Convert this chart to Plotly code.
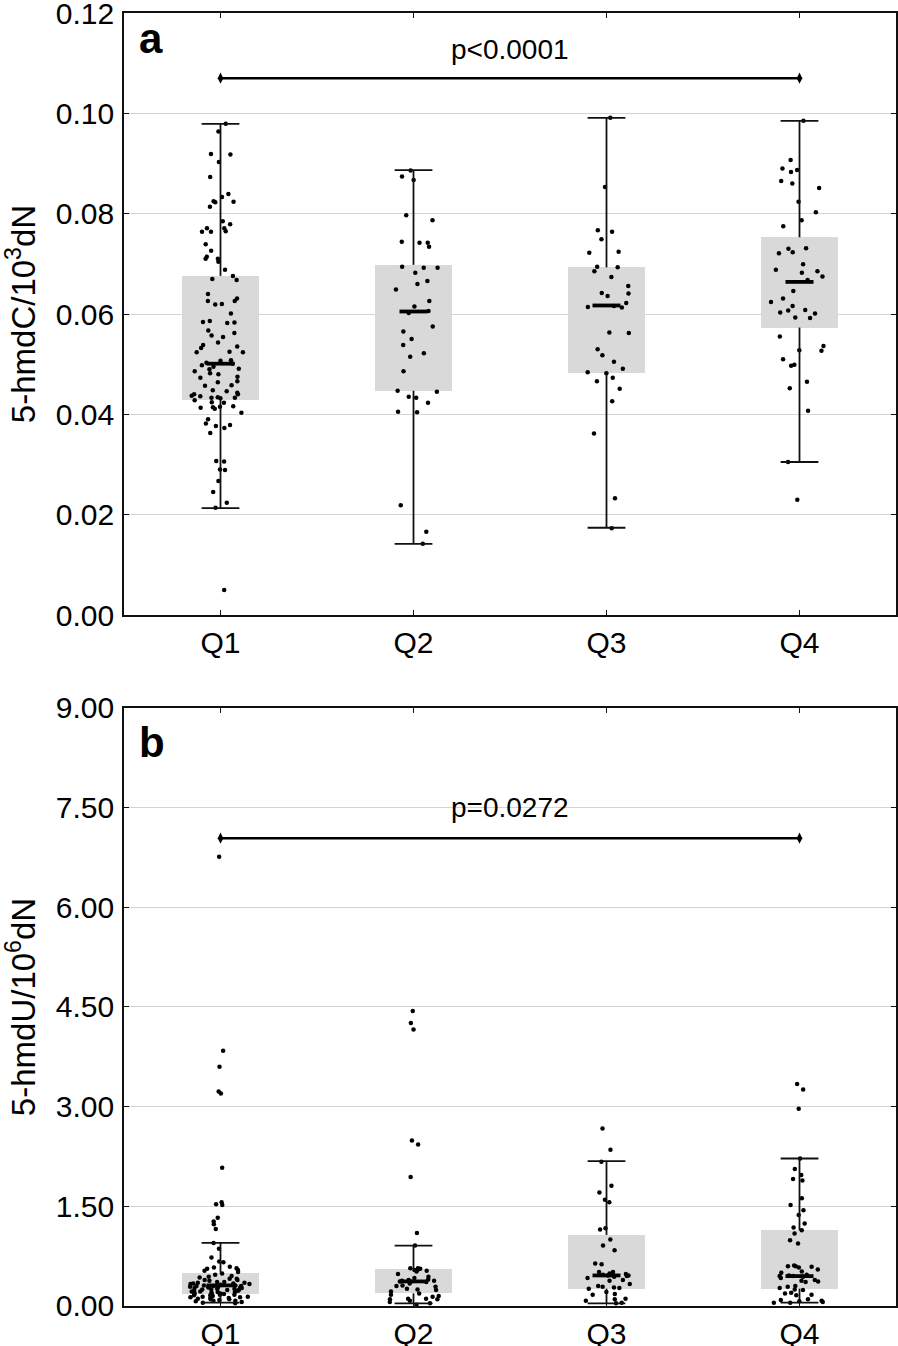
import plotly.graph_objects as go

categories = ["Q1", "Q2", "Q3", "Q4"]

# ---- panel a: 5-hmdC/10^3 dN ----
hmdc_q1 = [0.0979, 0.0964, 0.0918, 0.0919, 0.0903, 0.0873, 0.0839, 0.0833, 0.0825, 0.0823,
           0.0824, 0.0814, 0.0779, 0.0785, 0.0764, 0.0764, 0.0765, 0.0771, 0.0771, 0.0739,
           0.0726, 0.0714, 0.0710, 0.0710, 0.0704, 0.0688, 0.0676, 0.0670, 0.0668, 0.0640,
           0.0626, 0.0626, 0.0631, 0.0619, 0.0620, 0.0601, 0.0586, 0.0584, 0.0583, 0.0582,
           0.0567, 0.0557, 0.0554, 0.0562, 0.0543, 0.0538, 0.0535, 0.0532, 0.0525, 0.0524,
           0.0524, 0.0508, 0.0507, 0.0503, 0.0501, 0.0498, 0.0495, 0.0491, 0.0490, 0.0486,
           0.0482, 0.0480, 0.0475, 0.0473, 0.0466, 0.0464, 0.0458, 0.0457, 0.0448, 0.0446,
           0.0443, 0.0440, 0.0440, 0.0437, 0.0436, 0.0433, 0.0433, 0.0434, 0.0432, 0.0428,
           0.0423, 0.0424, 0.0416, 0.0415, 0.0414, 0.0413, 0.0411, 0.0403, 0.0390, 0.0382,
           0.0379, 0.0377, 0.0373, 0.0363, 0.0307, 0.0306, 0.0290, 0.0289, 0.0267, 0.0245,
           0.0224, 0.0214, 0.0050]
hmdc_q2 = [0.0886, 0.0874, 0.0867, 0.0797, 0.0787, 0.0744, 0.0742, 0.0742, 0.0734, 0.0694,
           0.0692, 0.0692, 0.0682, 0.0666, 0.0660, 0.0649, 0.0626, 0.0615, 0.0606, 0.0602,
           0.0575, 0.0565, 0.0550, 0.0538, 0.0522, 0.0515, 0.0486, 0.0447, 0.0445, 0.0435,
           0.0433, 0.0423, 0.0405, 0.0404, 0.0219, 0.0166, 0.0142]
hmdc_q3 = [0.0991, 0.0853, 0.0767, 0.0764, 0.0749, 0.0724, 0.0722, 0.0694, 0.0693, 0.0685,
           0.0674, 0.0656, 0.0642, 0.0641, 0.0636, 0.0622, 0.0616, 0.0614, 0.0613, 0.0563,
           0.0562, 0.0530, 0.0518, 0.0505, 0.0491, 0.0484, 0.0482, 0.0473, 0.0466, 0.0451,
           0.0426, 0.0362, 0.0233, 0.0173]
hmdc_q4 = [0.0985, 0.0907, 0.0890, 0.0887, 0.0883, 0.0865, 0.0860, 0.0851, 0.0824, 0.0803,
           0.0787, 0.0775, 0.0731, 0.0730, 0.0723, 0.0721, 0.0699, 0.0688, 0.0685, 0.0682,
           0.0675, 0.0668, 0.0646, 0.0631, 0.0624, 0.0616, 0.0608, 0.0607, 0.0603, 0.0601,
           0.0593, 0.0592, 0.0555, 0.0536, 0.0528, 0.0527, 0.0510, 0.0499, 0.0497, 0.0465,
           0.0452, 0.0407, 0.0305, 0.0230]
hmdc_box_q1 = [0.0429, 0.0447, 0.0483, 0.0573]
hmdc_median = [0.0501, 0.0605, 0.0617, 0.0664]
hmdc_box_q3 = [0.0676, 0.0698, 0.0693, 0.0753]
hmdc_whisk_lo = [0.0213, 0.0142, 0.0174, 0.0305]
hmdc_whisk_hi = [0.0979, 0.0887, 0.0991, 0.0985]
hmdc_sig = 0.107
hmdc_p = "p<0.0001"

# ---- panel b: 5-hmdU/10^6 dN ----
hmdu_q1 = [6.76, 3.84, 3.60, 3.23, 3.20, 2.08, 1.56, 1.53, 1.52, 1.33, 1.27, 1.23, 1.16,
           0.95, 0.86, 0.73, 0.67, 0.66, 0.59, 0.58, 0.57, 0.56, 0.54, 0.53, 0.51,
           0.49, 0.47, 0.45, 0.44, 0.43, 0.41, 0.41, 0.39, 0.39, 0.38, 0.36, 0.36, 0.35,
           0.34, 0.34, 0.33, 0.32, 0.32, 0.31, 0.31, 0.30, 0.30, 0.29, 0.29, 0.28, 0.28,
           0.27, 0.26, 0.26, 0.25, 0.25, 0.24, 0.23, 0.23, 0.22, 0.21, 0.21, 0.20, 0.19,
           0.19, 0.18, 0.18, 0.17, 0.16, 0.16, 0.15, 0.14, 0.14, 0.13, 0.12, 0.12, 0.11,
           0.10, 0.10, 0.09, 0.08, 0.08, 0.07, 0.06, 0.05, 0.04, 0.24, 0.27, 0.33, 0.22,
           0.17, 0.13, 0.30, 0.35, 0.28]
hmdu_q2 = [4.44, 4.26, 4.16, 2.49, 2.43, 1.94, 1.10, 0.91, 0.57, 0.57, 0.56, 0.55, 0.54,
           0.53, 0.52, 0.48, 0.44, 0.42, 0.40, 0.39, 0.38, 0.38, 0.37, 0.37, 0.36, 0.34,
           0.31, 0.30, 0.29, 0.26, 0.25, 0.24, 0.22, 0.19, 0.17, 0.15, 0.14, 0.11, 0.11,
           0.10, 0.10, 0.08, 0.06, 0.04, 0.02]
hmdu_q3 = [2.67, 2.35, 2.17, 1.81, 1.71, 1.60, 1.56, 1.17, 1.15, 1.00, 0.91, 0.84, 0.64,
           0.63, 0.51, 0.51, 0.49, 0.48, 0.47, 0.46, 0.46, 0.45, 0.44, 0.42, 0.39, 0.38,
           0.33, 0.30, 0.29, 0.28, 0.27, 0.26, 0.21, 0.18, 0.17, 0.11, 0.10, 0.08, 0.05,
           0.04]
hmdu_q4 = [3.34, 3.26, 2.97, 2.22, 2.06, 1.97, 1.91, 1.89, 1.62, 1.52, 1.44, 1.37, 1.24,
           1.18, 1.14, 1.09, 0.99, 0.94, 0.61, 0.60, 0.60, 0.59, 0.58, 0.55, 0.52, 0.50,
           0.47, 0.46, 0.45, 0.45, 0.44, 0.42, 0.39, 0.38, 0.37, 0.36, 0.30, 0.29, 0.27,
           0.25, 0.24, 0.20, 0.19, 0.17, 0.16, 0.10, 0.09, 0.08, 0.07, 0.06, 0.05, 0.05]
hmdu_box_q1 = [0.18, 0.19, 0.26, 0.26]
hmdu_median = [0.31, 0.37, 0.46, 0.45]
hmdu_box_q3 = [0.50, 0.55, 1.07, 1.14]
hmdu_whisk_lo = [0.05, 0.04, 0.04, 0.05]
hmdu_whisk_hi = [0.95, 0.91, 2.18, 2.22]
hmdu_sig = 7.04
hmdu_p = "p=0.0272"

FONT = "Liberation Sans, Arial, sans-serif"
BOXGREY = "#d9d9d9"

fig = go.Figure()


def add_panel(xa, ya, groups, bq1, bmed, bq3, wlo, whi, sig, ptxt, pty):
    # grey IQR box
    fig.add_trace(go.Bar(x=categories, y=[h - l for h, l in zip(bq3, bq1)], base=bq1,
                         width=0.4, marker=dict(color=BOXGREY, line=dict(width=0)),
                         xaxis=xa, yaxis=ya, showlegend=False, hoverinfo="skip"))
    # jittered points (box trace itself invisible)
    xs, ys = [], []
    for c, vals in zip(categories, groups):
        xs += [c] * len(vals)
        ys += vals
    fig.add_trace(go.Box(x=xs, y=ys, boxpoints="all", jitter=0.8, pointpos=0,
                         width=0.4, fillcolor="rgba(0,0,0,0)",
                         line=dict(width=0, color="rgba(0,0,0,0)"),
                         marker=dict(color="black", size=4.5),
                         xaxis=xa, yaxis=ya, showlegend=False, hoverinfo="y"))
    # whiskers
    wx, wy = [], []
    for c, a, b, l, h in zip(categories, bq1, bq3, wlo, whi):
        wx += [c, c, None, c, c, None]
        wy += [b, h, None, a, l, None]
    fig.add_trace(go.Scatter(x=wx, y=wy, mode="lines", line=dict(color="#111", width=1.8),
                             xaxis=xa, yaxis=ya, showlegend=False, hoverinfo="skip"))
    fig.add_trace(go.Scatter(x=categories + categories, y=wlo + whi, mode="markers",
                             marker=dict(symbol="line-ew", size=27,
                                         line=dict(color="#111", width=1.8)),
                             xaxis=xa, yaxis=ya, showlegend=False, hoverinfo="skip"))
    # medians
    fig.add_trace(go.Scatter(x=categories, y=bmed, mode="markers",
                             marker=dict(symbol="line-ew", size=20,
                                         line=dict(color="black", width=3.8)),
                             xaxis=xa, yaxis=ya, showlegend=False, hoverinfo="skip"))
    # significance bar
    fig.add_trace(go.Scatter(x=[categories[0], categories[-1]], y=[sig, sig],
                             mode="lines+markers",
                             line=dict(color="black", width=2.5),
                             marker=dict(symbol="diamond-tall", size=8, color="black"),
                             xaxis=xa, yaxis=ya, showlegend=False, hoverinfo="skip"))
    fig.add_annotation(x=1.5, y=pty, xref=xa, yref=ya, text=ptxt, showarrow=False,
                       font=dict(size=28, color="black", family=FONT))


add_panel("x", "y", [hmdc_q1, hmdc_q2, hmdc_q3, hmdc_q4], hmdc_box_q1, hmdc_median,
          hmdc_box_q3, hmdc_whisk_lo, hmdc_whisk_hi, hmdc_sig, hmdc_p, 0.1128)
add_panel("x2", "y2", [hmdu_q1, hmdu_q2, hmdu_q3, hmdu_q4], hmdu_box_q1, hmdu_median,
          hmdu_box_q3, hmdu_whisk_lo, hmdu_whisk_hi, hmdu_sig, hmdu_p, 7.50)

fig.add_annotation(x=0.017, y=0.958, xref="x domain", yref="y domain", text="<b>a</b>",
                   showarrow=False, xanchor="left", yanchor="middle",
                   font=dict(size=42, color="black", family=FONT))
fig.add_annotation(x=0.017, y=0.943, xref="x2 domain", yref="y2 domain", text="<b>b</b>",
                   showarrow=False, xanchor="left", yanchor="middle",
                   font=dict(size=42, color="black", family=FONT))

xcommon = dict(type="category", categoryorder="array", categoryarray=categories,
               range=[-0.5, 3.5], showline=True, linecolor="#111", linewidth=1.6,
               mirror="ticks", ticks="inside", ticklen=5, tickwidth=1.4, tickcolor="#111",
               showgrid=False, zeroline=False, automargin=False,
               ticklabeloverflow="allow",
               tickfont=dict(size=30, color="black", family=FONT))
ycommon = dict(showline=True, linecolor="#111", linewidth=1.6, mirror="ticks",
               ticks="inside", ticklen=5, tickwidth=1.4, tickcolor="#111",
               showgrid=True, gridcolor="#d4d4d4", gridwidth=1.3, zeroline=False,
               tickformat=".2f", ticklabelstandoff=2, automargin=False,
               ticklabeloverflow="allow",
               tickfont=dict(size=30, color="black", family=FONT))

top_lo = 0.5344
bot_hi = 0.4625

fig.update_layout(
    width=898, height=1346,
    margin=dict(l=124, r=2, t=13, b=40),
    plot_bgcolor="white", paper_bgcolor="white",
    showlegend=False, bargap=0,
    font=dict(family=FONT, color="black"),
    xaxis=dict(xcommon, domain=[0, 1], anchor="y"),
    yaxis=dict(ycommon, domain=[top_lo, 1], anchor="x", range=[0, 0.12], dtick=0.02,
               title=dict(text="5-hmdC/10<sup>3</sup>dN", standoff=29,
                          font=dict(size=33, color="black", family=FONT))),
    xaxis2=dict(xcommon, domain=[0, 1], anchor="y2"),
    yaxis2=dict(ycommon, domain=[0, bot_hi], anchor="x2", range=[0, 9], dtick=1.5,
                title=dict(text="5-hmdU/10<sup>6</sup>dN", standoff=29,
                           font=dict(size=33, color="black", family=FONT))),
)

fig.write_html("out.html", config={"displayModeBar": False},
               post_script="document.body.style.margin='0';document.body.style.overflow='hidden';")
